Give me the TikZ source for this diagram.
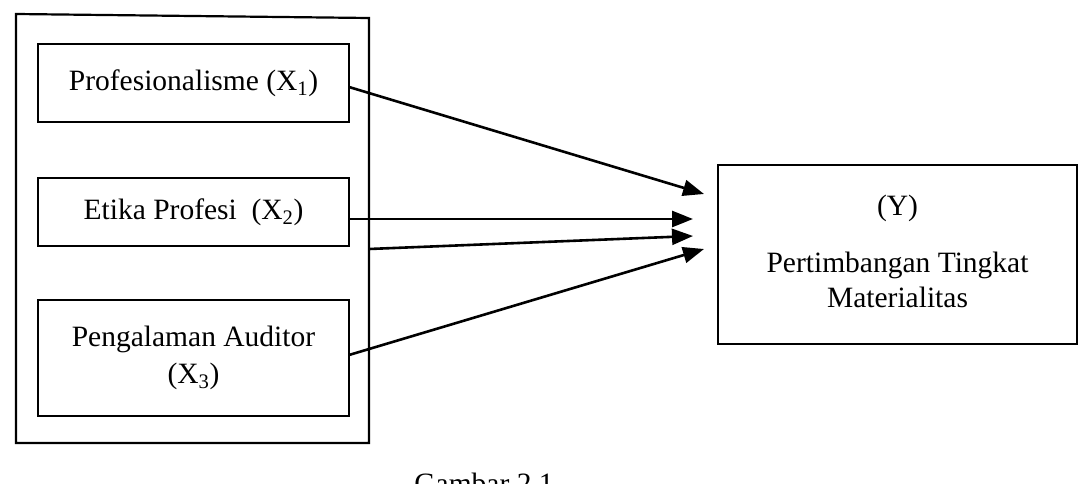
\documentclass[tikz,border=0pt]{standalone}
\usepackage{fontspec}
\setmainfont{Liberation Serif}
\usetikzlibrary{arrows.meta}
\begin{document}
\begin{tikzpicture}[x=1pt,y=-1pt,
  box/.style={draw,line width=2.2pt,inner sep=0pt,align=center,font=\fontsize{29.5}{35}\selectfont},
  arr/.style={line width=2.6pt,-{Triangle[length=21pt,width=16pt]}},
  lbl/.style={font=\fontsize{29.5}{35}\selectfont}]
\clip (0,0) rectangle (1086,484);
\fill[white] (0,0) rectangle (1086,484);
% outer frame
\draw[line width=2.2pt,line join=miter] (16,14) -- (369,18) -- (369,443) -- (16,443) -- cycle;
\node[box,minimum width=311pt,minimum height=78pt] (x1) at (193.5,83) {Profesionalisme (X\textsubscript{1})};
\node[box,minimum width=311pt,minimum height=68pt] (x2) at (193.5,212) {Etika Profesi~ (X\textsubscript{2})};
\node[box,minimum width=311pt,minimum height=116pt] (x3) at (193.5,358) {Pengalaman Auditor\\[2pt](X\textsubscript{3})};
\node[box,minimum width=359pt,minimum height=179pt] (y) at (897.5,254.5) {};
\node[lbl] (ylab) at (897.5,208) {(Y)};
\node[lbl,align=center] (ytxt) at (897.5,280) {Pertimbangan Tingkat\\Materialitas};
\coordinate (s1) at (349,87);
\coordinate (s2) at (349,219);
\coordinate (s3) at (369,249);
\coordinate (s4) at (349,355);
\coordinate (e1) at (704,194);
\coordinate (e2) at (693,219);
\coordinate (e3) at (693,236);
\coordinate (e4) at (704,249);
\draw[arr] (s1) -- (e1);
\draw[arr] (s2) -- (e2);
\draw[arr] (s3) -- (e3);
\draw[arr] (s4) -- (e4);
\node[lbl,anchor=base] (cap) at (484,493) {Gambar 2.1};
\end{tikzpicture}
\end{document}
